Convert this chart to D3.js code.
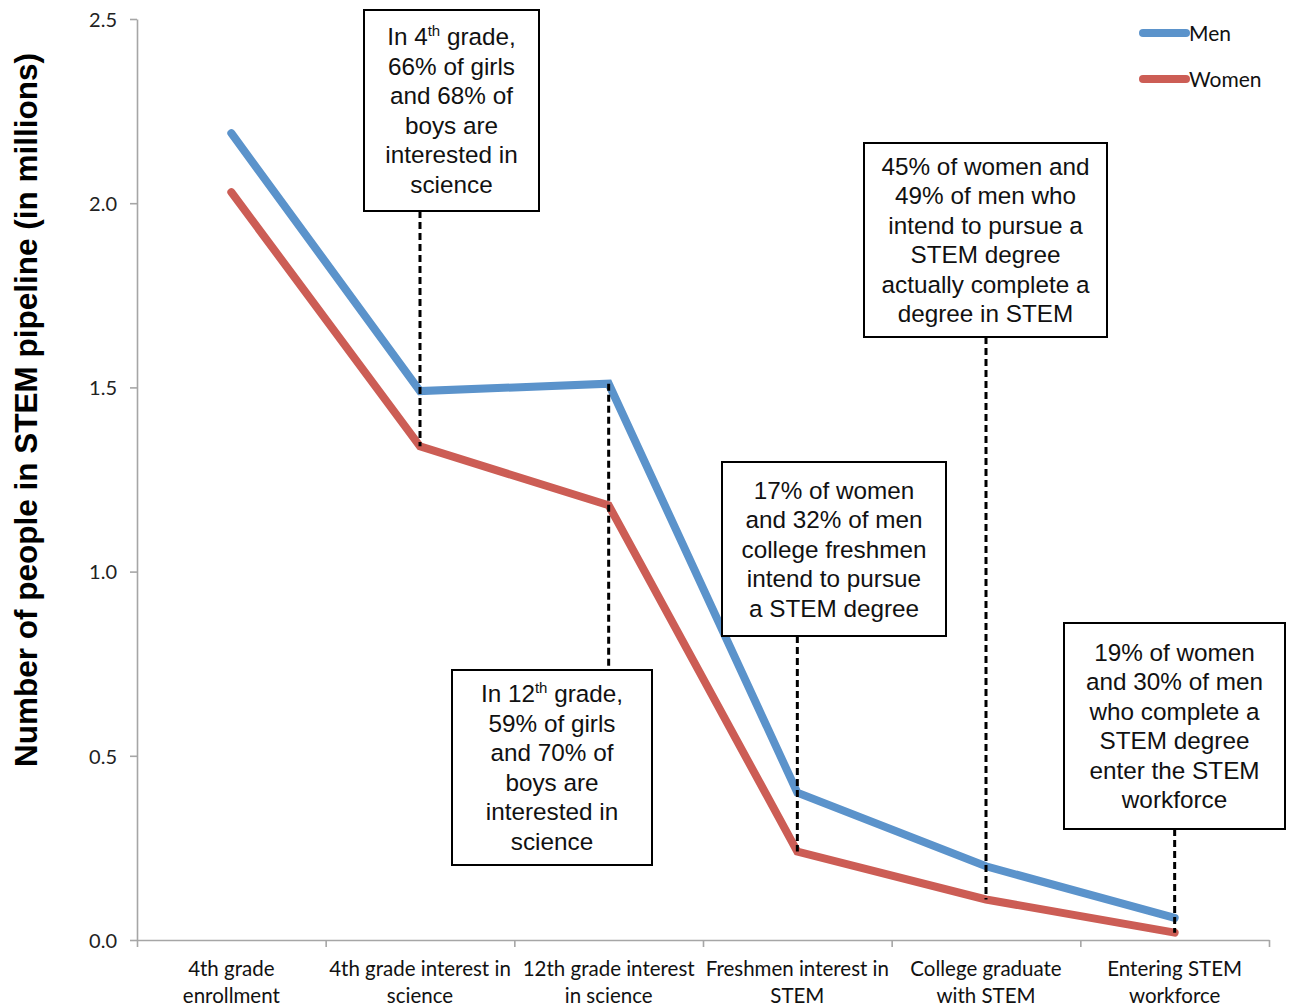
<!DOCTYPE html>
<html>
<head>
<meta charset="utf-8">
<script src="https://cdn.jsdelivr.net/npm/d3@7"></script>
<style>
  html, body { margin: 0; padding: 0; background: #fff; }
  svg { display: block; }
</style>
</head>
<body>
<svg id="chart" width="1291" height="1007"></svg>
<script>
// ---------- data ----------
const categories = [
  "4th grade enrollment",
  "4th grade interest in science",
  "12th grade interest in science",
  "Freshmen interest in STEM",
  "College graduate with STEM",
  "Entering STEM workforce"
];
const categoryLabelLines = [
  ["4th grade", "enrollment"],
  ["4th grade interest in", "science"],
  ["12th grade interest", "in science"],
  ["Freshmen interest in", "STEM"],
  ["College graduate", "with STEM"],
  ["Entering STEM", "workforce"]
];
const menValues   = [2.19, 1.49, 1.51, 0.40, 0.20, 0.06];
const womenValues = [2.03, 1.34, 1.18, 0.24, 0.11, 0.02];
const yTickValues = [0.0, 0.5, 1.0, 1.5, 2.0, 2.5];
const seriesNames = ["Men", "Women"];
const yAxisTitle = "Number of people in STEM pipeline (in millions)";
const annotationTexts = [
  ["In 4^th^ grade,", "66% of girls", "and 68% of", "boys are", "interested in", "science"],
  ["In 12^th^ grade,", "59% of girls", "and 70% of", "boys are", "interested in", "science"],
  ["17% of women", "and 32% of men", "college freshmen", "intend to pursue", "a STEM degree"],
  ["45% of women and", "49% of men who", "intend to pursue a", "STEM degree", "actually complete a", "degree in STEM"],
  ["19% of women", "and 30% of men", "who complete a", "STEM degree", "enter the STEM", "workforce"]
];
const annotationCategory = [1, 2, 3, 4, 5];

// ---------- layout / style ----------
const colors = { Men: "#5B93CB", Women: "#CC5D55" };
const svg = d3.select("#chart");
const plot = { left: 137, right: 1269, top: 19, bottom: 940 };

const x = d3.scaleBand().domain(categories).range([plot.left, plot.right]);
const xBound = d3.scaleLinear().domain([0, categories.length]).range([plot.left, plot.right]);
const y = d3.scaleLinear().domain([0, 2.5]).range([plot.bottom, plot.top]);
const cx = c => x(c) + x.bandwidth() / 2;

// annotation box layout (pixels) : x0, x1, y0, y1 and leader mode
const boxLayout = [
  { x0: 364, x1: 539, y0: 10,  y1: 211, leader: "below" },
  { x0: 452, x1: 652, y0: 670, y1: 865, leader: "above" },
  { x0: 722, x1: 946, y0: 462, y1: 636, leader: "below" },
  { x0: 864, x1: 1107, y0: 143, y1: 337, leader: "below" },
  { x0: 1064, x1: 1285, y0: 623, y1: 829, leader: "below" }
];

// ---------- axes ----------
const axisColor = "#A6A6A6";
const yAxis = d3.axisLeft(y).tickValues(yTickValues).tickFormat(d3.format(".1f"))
  .tickSize(7).tickSizeOuter(0).tickPadding(13);
const gy = svg.append("g").attr("transform", `translate(${plot.left},0)`).call(yAxis);
gy.select(".domain").attr("stroke", axisColor).attr("stroke-width", 1.6);
gy.selectAll(".tick line").attr("stroke", axisColor).attr("stroke-width", 1.6);
gy.selectAll(".tick text").attr("font-family", "Lato, 'Open Sans', sans-serif")
  .attr("font-size", 20).attr("fill", "#222").attr("dy", "0.36em");

const xAxis = d3.axisBottom(xBound).tickValues(d3.range(0, categories.length + 1))
  .tickFormat("").tickSize(7).tickSizeOuter(0);
const gx = svg.append("g").attr("transform", `translate(0,${plot.bottom})`).call(xAxis);
gx.select(".domain").attr("stroke", axisColor).attr("stroke-width", 1.6);
gx.selectAll(".tick line").attr("stroke", axisColor).attr("stroke-width", 1.6);

// x category labels
const xl = svg.append("g").attr("font-family", "Lato, 'Open Sans', sans-serif")
  .attr("font-size", 20.5).attr("fill", "#111").attr("text-anchor", "middle");
categories.forEach((c, i) => {
  const t = xl.append("text").attr("x", cx(c)).attr("y", 976);
  categoryLabelLines[i].forEach((ln, j) => {
    t.append("tspan").attr("x", cx(c)).attr("dy", j === 0 ? 0 : 26.5).text(ln);
  });
});

// y axis title
svg.append("text")
  .attr("transform", `translate(37,410) rotate(-90)`)
  .attr("text-anchor", "middle")
  .attr("font-family", "'Liberation Sans', Arial, sans-serif")
  .attr("font-weight", "bold")
  .attr("font-size", 31.5)
  .attr("fill", "#000")
  .text(yAxisTitle);

// ---------- lines ----------
const line = d3.line().x((d, i) => cx(categories[i])).y(d => y(d));
[["Men", menValues], ["Women", womenValues]].forEach(([name, vals]) => {
  svg.append("path").datum(vals)
    .attr("d", line)
    .attr("fill", "none")
    .attr("stroke", colors[name])
    .attr("stroke-width", 8)
    .attr("stroke-linecap", "round")
    .attr("stroke-linejoin", "miter");
});

// ---------- annotations ----------
const annG = svg.append("g");
annotationTexts.forEach((lines, k) => {
  const L = boxLayout[k];
  const ci = annotationCategory[k];
  const lx = cx(categories[ci]);
  let ya, yb;
  if (L.leader === "below") { ya = L.y1; yb = y(womenValues[ci]); }
  else { ya = y(menValues[ci]); yb = L.y0; }
  annG.append("line").attr("x1", lx).attr("x2", lx).attr("y1", ya).attr("y2", yb)
    .attr("stroke", "#000").attr("stroke-width", 3).attr("stroke-dasharray", "7,4");

  annG.append("rect").attr("x", L.x0).attr("y", L.y0)
    .attr("width", L.x1 - L.x0).attr("height", L.y1 - L.y0)
    .attr("fill", "#fff").attr("stroke", "#000").attr("stroke-width", 2);

  const tcx = (L.x0 + L.x1) / 2;
  const lh = 29.5;
  const first = (L.y0 + L.y1) / 2 - (lines.length - 1) * lh / 2 + 8.5;
  const t = annG.append("text").attr("text-anchor", "middle")
    .attr("font-family", "'Liberation Sans', Helvetica, Arial, sans-serif")
    .attr("font-size", 24.3).attr("fill", "#111");
  lines.forEach((ln, j) => {
    const parts = ln.split("^");
    const row = t.append("tspan").attr("x", tcx).attr("y", first + j * lh);
    parts.forEach((p, pi) => {
      if (pi === 0) { row.text(p); return; }
      if (pi % 2 === 1) {
        t.append("tspan").attr("font-size", 15).attr("dy", -9).text(p);
      } else {
        t.append("tspan").attr("dy", 9).text(p);
      }
    });
  });
});

// ---------- legend ----------
const lg = svg.append("g");
seriesNames.forEach((name, i) => {
  const ly = 33 + i * 46;
  lg.append("line").attr("x1", 1143).attr("x2", 1186).attr("y1", ly).attr("y2", ly)
    .attr("stroke", colors[name]).attr("stroke-width", 8).attr("stroke-linecap", "round");
  lg.append("text").attr("x", 1189).attr("y", ly + 8)
    .attr("font-family", "Lato, 'Open Sans', sans-serif").attr("font-size", 21)
    .attr("fill", "#111").text(name);
});
</script>
</body>
</html>
